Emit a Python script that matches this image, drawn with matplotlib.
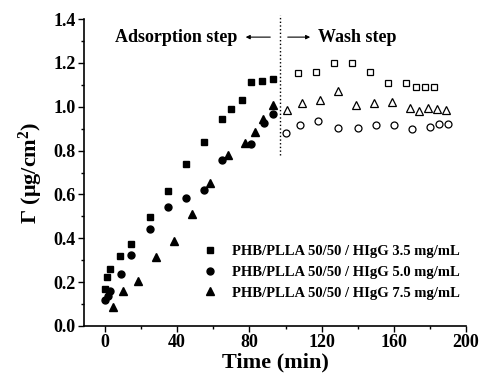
import matplotlib
matplotlib.use("Agg")
import matplotlib.pyplot as plt
from matplotlib.ticker import MultipleLocator

plt.rcParams['font.family'] = ['Liberation Serif', 'DejaVu Serif']
plt.rcParams['font.weight'] = 'bold'
plt.rcParams['mathtext.fontset'] = 'custom'
plt.rcParams['mathtext.rm'] = 'Liberation Serif:bold'
plt.rcParams['mathtext.it'] = 'Liberation Serif:bold'

# adsorption step (filled markers)
t_sq = [0, 1.3, 2.8, 8.3, 14.6, 25, 35, 45, 55, 65, 70, 76, 81, 87, 93]
g_sq = [0.167, 0.222, 0.261, 0.32, 0.372, 0.497, 0.617, 0.74, 0.84, 0.944, 0.988, 1.031, 1.113, 1.117, 1.125]
t_ci = [0, 1.5, 3, 8.7, 14.6, 25, 35, 45, 55, 65, 81, 88, 93]
g_ci = [0.118, 0.137, 0.16, 0.235, 0.325, 0.444, 0.541, 0.585, 0.62, 0.757, 0.83, 0.927, 0.967]
t_tr = [4.3, 10, 18.3, 28.3, 38.3, 48.3, 58.2, 68.2, 77.6, 83, 87.8, 92.8]
g_tr = [0.085, 0.161, 0.206, 0.316, 0.389, 0.512, 0.651, 0.78, 0.836, 0.885, 0.943, 1.006]

# wash step (open markers)
tw_sq = [107, 117, 127, 137, 147, 157, 167, 172, 177, 182]
gw_sq = [1.155, 1.158, 1.198, 1.198, 1.158, 1.107, 1.107, 1.091, 1.091, 1.09]
tw_ci = [100, 108, 118, 129, 140, 150, 160, 170, 180, 185, 190]
gw_ci = [0.879, 0.917, 0.935, 0.903, 0.903, 0.917, 0.917, 0.9, 0.909, 0.92, 0.92]
tw_tr = [101, 109, 119, 129, 139, 149, 159, 169, 174, 179, 184, 189]
gw_tr = [0.984, 1.018, 1.031, 1.07, 1.008, 1.018, 1.023, 0.993, 0.98, 0.993, 0.988, 0.985]

labels = ['PHB/PLLA 50/50 / HIgG 3.5 mg/mL',
          'PHB/PLLA 50/50 / HIgG 5.0 mg/mL',
          'PHB/PLLA 50/50 / HIgG 7.5 mg/mL']

fig = plt.figure(figsize=(4.8, 3.83), dpi=100)
ax = fig.add_axes([0.175, 0.149, 0.796, 0.801])

ms = 5
ax.plot(t_sq, g_sq, 's', color='black', ms=ms, label=labels[0])
ax.plot(t_ci, g_ci, 'o', color='black', ms=ms, label=labels[1])
ax.plot(t_tr, g_tr, '^', color='black', ms=ms + 0.5, label=labels[2])
ax.plot(tw_sq, gw_sq, 's', mfc='white', mec='black', mew=0.9, ms=ms)
ax.plot(tw_ci, gw_ci, 'o', mfc='white', mec='black', mew=0.9, ms=ms)
ax.plot(tw_tr, gw_tr, '^', mfc='white', mec='black', mew=0.9, ms=ms + 0.5)

# step separator and arrows
ax.plot([96.7, 96.7], [0.78, 1.42], ':', color='black', lw=1, clip_on=False)
ax.annotate('', xy=(76.4, 1.318), xytext=(93.1, 1.318),
            arrowprops=dict(arrowstyle='-|>', color='black', lw=0.8, mutation_scale=6))
ax.annotate('', xy=(115.2, 1.318), xytext=(99.7, 1.318),
            arrowprops=dict(arrowstyle='-|>', color='black', lw=0.8, mutation_scale=6))
ax.text(73.5, 1.318, 'Adsorption step', ha='right', va='center', fontsize=13, fontweight='bold')
ax.text(118, 1.318, 'Wash step', ha='left', va='center', fontsize=13, fontweight='bold')

ax.set_xlim(-11.6, 200)
ax.set_ylim(0, 1.4)
ax.xaxis.set_major_locator(MultipleLocator(40))
ax.xaxis.set_minor_locator(MultipleLocator(20))
ax.yaxis.set_major_locator(MultipleLocator(0.2))
ax.yaxis.set_minor_locator(MultipleLocator(0.1))
ax.yaxis.set_major_formatter(plt.FormatStrFormatter('%.1f'))
ax.spines['top'].set_visible(False)
ax.spines['right'].set_visible(False)
for s in ('left', 'bottom'):
    ax.spines[s].set_linewidth(1.2)
ax.tick_params(which='major', direction='out', length=4, width=1, labelsize=13, pad=2)
ax.tick_params(which='minor', direction='out', length=2.5, width=1)

ax.set_xlabel('Time (min)', fontsize=16, fontweight='bold', labelpad=1)
ax.set_ylabel(r'$\Gamma$ ($\mu$g/cm$^2$)', fontsize=16, fontweight='bold', labelpad=6)

ax.legend(loc='lower left', bbox_to_anchor=(0.295, 0.067), frameon=False,
          fontsize=10.5, handletextpad=1.0, labelspacing=0.52, handlelength=1.0,
          borderaxespad=0)

fig.savefig('out.png', dpi=100)
